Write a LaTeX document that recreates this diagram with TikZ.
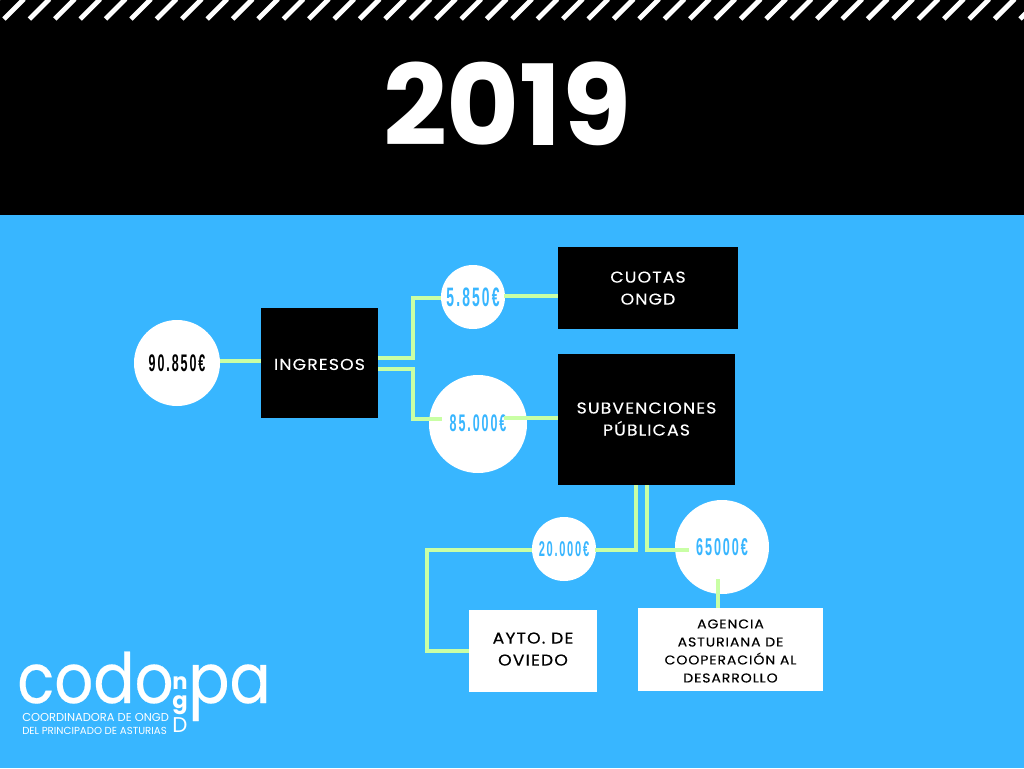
\documentclass[tikz,border=0pt]{standalone}
\usepackage{fontspec}
\setmainfont{Poppins}
\newfontfamily\numfont[FakeStretch=0.52,LetterSpace=8]{Liberation Sans Bold}
\newfontfamily\lblfont[LetterSpace=7,FakeStretch=1.1,FakeBold=0.25]{Poppins}
\newfontfamily\logofont[FakeStretch=0.88,FakeBold=0.3]{Poppins}
\definecolor{skyb}{HTML}{38B6FF}
\definecolor{lime}{HTML}{C9FFA5}
\newcommand{\dn}[1]{\rule{0pt}{#1}}
\newcommand{\up}[1]{\rule[-#1]{0pt}{#1}}
\tikzset{
  blackbox/.style={fill=black,text=white,inner sep=0pt,align=center,font=\lblfont\fontsize{11.8}{16.5}\selectfont},
  whitebox/.style={fill=white,text=black,inner sep=0pt,align=center},
  amount/.style={circle,fill=white,inner sep=0pt,text=skyb,font=\numfont\fontsize{18}{18}\selectfont},
  conn/.style={draw=lime,line width=3pt,line join=miter,line cap=butt},
  stripe/.style={draw=white,line width=3.6pt},
  logotext/.style={text=white,inner sep=0pt,anchor=base west}
}
\begin{document}
\begin{tikzpicture}[x=0.75pt,y=-0.75pt]
\useasboundingbox (0,0) rectangle (1024,768);
\fill[skyb] (0,0) rectangle (1024,768);
\fill[black] (0,0) rectangle (1024,215);
\foreach \i in {-1,...,41}{
  \draw[stripe] ({\i*25.4+4},19) -- ({\i*25.4+24},-1);
}
\node[text=white,inner sep=0pt,font=\fontsize{84}{84}\bfseries\selectfont] (title) at (507,104) {2019};

\node[amount,minimum size=64.5pt,text=black] (total) at (177,363) {90.850€};
\node[blackbox,minimum width=87.75pt,minimum height=82.5pt] (ingresos) at (319.5,363) {\dn{10.5pt}INGRESOS};
\node[amount,minimum size=48pt,font=\numfont\fontsize{20}{20}\selectfont] (c1) at (473,297) {5.850€};
\node[blackbox,minimum width=135pt,minimum height=61.5pt] (cuotas) at (648,288) {\dn{8.5pt}CUOTAS\\ONGD};
\node[amount,minimum size=73.5pt] (c2) at (478,424) {\raisebox{2pt}{85.000€}};
\node[blackbox,minimum width=132.75pt,minimum height=98.25pt] (subv) at (646.5,419) {\dn{8pt}SUBVENCIONES\\PÚBLICAS};
\node[amount,minimum size=48pt,font=\numfont\fontsize{16}{16}\selectfont] (c3) at (564,549) {20.000€};
\node[amount,minimum size=70.5pt,font=\numfont\fontsize{18.2}{18.2}\selectfont] (c4) at (722,547) {65000€};
\node[whitebox,minimum width=96pt,minimum height=61.5pt,font=\lblfont\fontsize{11.8}{16.5}\selectfont] (ayto) at (533,651) {AYTO. DE\\OVIEDO\up{3pt}};
\node[whitebox,minimum width=138.75pt,minimum height=62.25pt,font=\lblfont\fontsize{9.6}{13.5}\selectfont] (agencia) at (730.5,649.5) {\dn{9pt}AGENCIA\\ASTURIANA DE\\COOPERACIÓN AL\\DESARROLLO};

\draw[conn] (total.east |- 0,361) -- (ingresos.west |- 0,361);
\draw[conn] (ingresos.east |- 0,358) -| (413,298) -- (c1.west |- 0,298);
\draw[conn] (ingresos.east |- 0,369) -| (413,419) -- (442,419);
\draw[conn] (504,296) -- (cuotas.west |- 0,296);
\draw[conn] (504,418) -- (subv.west |- 0,418);
\draw[conn] (636,485) |- (595,550);
\draw[conn] (c3.west |- 0,550) -| (427,651) -- (ayto.west |- 0,651);
\draw[conn] (647,485) |- (689,550);
\draw[conn] (718,579) -- (718,608);

\node[logotext,font=\logofont\fontsize{52}{52}\selectfont] (logoa) at (17,703) {codo};
\node[logotext,font=\logofont\fontsize{52}{52}\selectfont] (logob) at (188,703) {pa};
\node[logotext,font=\fontsize{17}{17}\bfseries\selectfont,anchor=center] (ln) at (180,683) {n};
\node[logotext,font=\fontsize{17}{17}\bfseries\selectfont,anchor=center] (lg) at (180,705) {g};
\node[logotext,font=\fontsize{16}{16}\selectfont,anchor=center] (ld) at (180,725) {D};
\node[logotext,font=\fontsize{8.6}{8.6}\selectfont] (l1) at (22,721) {COORDINADORA DE ONGD};
\node[logotext,font=\fontsize{7.65}{7.65}\selectfont] (l2) at (22,734) {DEL PRINCIPADO DE ASTURIAS};
\end{tikzpicture}
\end{document}
